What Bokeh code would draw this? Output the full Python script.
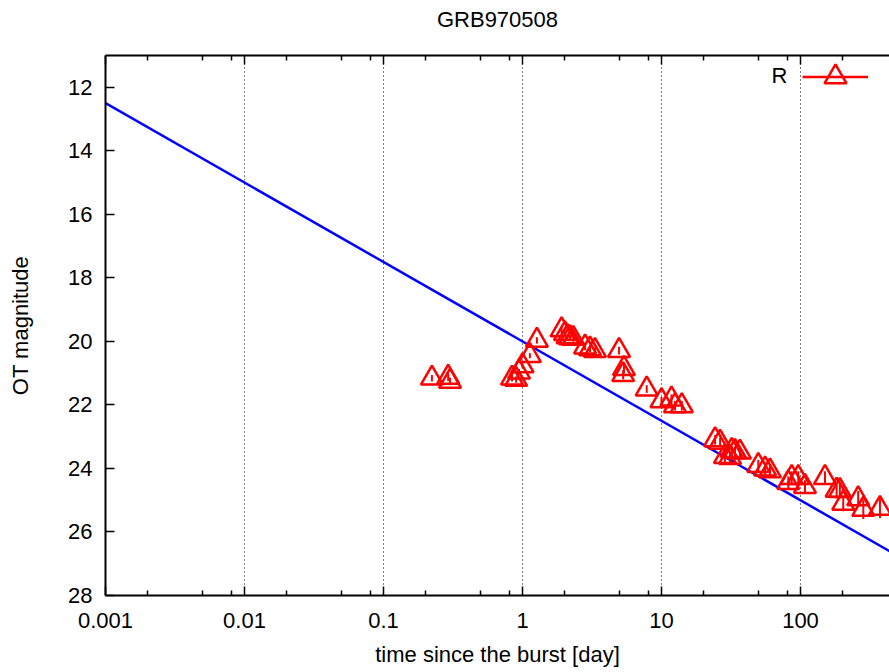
import math
from bokeh.plotting import figure
from bokeh.models import (Range1d, FixedTicker, LogAxis, Label, Legend, LegendItem,
                          ColumnDataSource, NumeralTickFormatter)
from bokeh.embed import file_html
from bokeh.resources import INLINE

# ---------------- data ----------------
t_days = [0.223, 0.292, 0.301, 0.84, 0.90, 0.944, 1.00, 1.13, 1.27,
          1.91, 2.02, 2.11, 2.20, 2.32, 2.82, 3.06, 3.32,
          4.95, 5.37, 5.30, 7.83, 10.0, 11.8, 12.5, 14.0,
          24.3, 26.4, 28.6, 31.1, 32.0, 33.8, 36.7,
          49.7, 55.6, 60.3, 81.7, 86.4, 96.4, 107.7,
          150.0, 182.0, 192.0, 203.0, 260.0, 283.0, 373.0]
r_mag = [21.16, 21.13, 21.26, 21.16, 21.20, 20.97, 20.77, 20.45, 19.97,
         19.64, 19.76, 19.86, 19.89, 19.91, 20.18, 20.24, 20.29,
         20.29, 20.86, 21.05, 21.50, 21.87, 21.82, 22.03, 22.03,
         23.10, 23.18, 23.63, 23.66, 23.44, 23.47, 23.49,
         23.91, 24.02, 24.08, 24.45, 24.29, 24.29, 24.57,
         24.29, 24.69, 24.70, 25.10, 24.96, 25.29, 25.26]
r_err = [0.10, 0.12, 0.12, 0.10, 0.10, 0.10, 0.08, 0.08, 0.10,
         0.10, 0.08, 0.08, 0.08, 0.10, 0.10, 0.10, 0.10,
         0.12, 0.15, 0.15, 0.12, 0.12, 0.15, 0.15, 0.15,
         0.15, 0.15, 0.18, 0.18, 0.15, 0.15, 0.18,
         0.18, 0.20, 0.20, 0.20, 0.20, 0.20, 0.20,
         0.20, 0.25, 0.25, 0.25, 0.25, 0.30, 0.30]

# fitted power-law decay line (mag vs time)
fit_t = [0.001, 500.0]
fit_mag = [12.5, 26.75]

x_major = [0.001, 0.01, 0.1, 1, 10, 100]
x_grid = [0.01, 0.1, 1, 10, 100]
x_minor_factors = [2, 5, 8]
y_ticks = [12, 14, 16, 18, 20, 22, 24, 26, 28]

title_text = "GRB970508"
x_label = "time since the burst [day]"
y_label = "OT magnitude"
series_name = "R"

# ---------------- layout ----------------
W, H = 889, 672
FL, FT, FB = 105, 55, 77
FW = W - FL
FH = H - FT - FB
PX_PER_DEC = 139.0
x_end = 10 ** (-3 + FW / PX_PER_DEC)

x_minor = [d * f for d in x_major + [1000] for f in x_minor_factors]
x_minor = [v for v in x_minor if v < x_end]

FONT = "Liberation Sans"
FS = "22px"

p = figure(width=W, height=H, x_axis_type="log",
           x_range=Range1d(0.001, x_end), y_range=Range1d(28, 11),
           output_backend="svg", toolbar_location=None,
           min_border_left=FL, min_border_right=0, min_border_top=FT,
           min_border_bottom=FB)
p.outline_line_color = None
p.background_fill_color = "white"
p.border_fill_color = "white"

# x axis
xa = p.xaxis[0]
xa.ticker = FixedTicker(ticks=x_major, minor_ticks=x_minor)
xa.formatter = NumeralTickFormatter(format="0.[000]")
xa.major_tick_in = 9
xa.major_tick_out = 0
xa.minor_tick_in = 5
xa.minor_tick_out = 0
xa.axis_line_width = 2
xa.major_tick_line_width = 1.5
xa.minor_tick_line_width = 1.5
xa.major_label_text_font = FONT
xa.major_label_text_font_size = FS
xa.major_label_text_color = "black"
xa.major_label_standoff = 17
xa.axis_label = x_label
xa.axis_label_text_font = FONT
xa.axis_label_text_font_size = FS
xa.axis_label_text_font_style = "normal"
xa.axis_label_text_color = "black"
xa.axis_label_standoff = 11

# top mirror axis (labels hidden) carrying the title text
top = LogAxis(ticker=FixedTicker(ticks=x_major, minor_ticks=x_minor),
              formatter=NumeralTickFormatter(format="0.[000]"),
              major_tick_in=9, major_tick_out=0, minor_tick_in=5, minor_tick_out=0,
              axis_line_width=2, major_tick_line_width=1.5, minor_tick_line_width=1.5,
              major_label_text_alpha=0.0, major_label_text_font_size="10px",
              major_label_standoff=0,
              axis_label=title_text, axis_label_text_font=FONT,
              axis_label_text_font_size=FS, axis_label_text_font_style="normal",
              axis_label_text_color="black", axis_label_standoff=24)
p.add_layout(top, "above")

# y axis
ya = p.yaxis[0]
ya.ticker = FixedTicker(ticks=y_ticks)
ya.major_tick_in = 9
ya.major_tick_out = 0
ya.minor_tick_in = 0
ya.minor_tick_out = 0
ya.axis_line_width = 2
ya.major_tick_line_width = 1.5
ya.major_label_text_font = FONT
ya.major_label_text_font_size = FS
ya.major_label_text_color = "black"
ya.major_label_standoff = 13
ya.axis_label = y_label
ya.axis_label_text_font = FONT
ya.axis_label_text_font_size = FS
ya.axis_label_text_font_style = "normal"
ya.axis_label_text_color = "black"
ya.axis_label_standoff = 32

# grid
p.xgrid[0].ticker = FixedTicker(ticks=x_grid)
p.xgrid[0].grid_line_color = "black"
p.xgrid[0].grid_line_dash = "1 3"
p.xgrid[0].grid_line_width = 1
p.ygrid[0].visible = False

# fit line
p.line(fit_t, fit_mag, line_color="#0000ff", line_width=2.5)

# data
src = ColumnDataSource(dict(t=t_days, m=r_mag,
                            lo=[m - e for m, e in zip(r_mag, r_err)],
                            hi=[m + e for m, e in zip(r_mag, r_err)]))
p.segment(x0="t", y0="lo", x1="t", y1="hi", source=src, line_color="#ff0000", line_width=2)
sc = p.scatter(x="t", y="m", source=src, marker="triangle", size=22,
               fill_color=None, line_color="#ff0000", line_width=2.5)
dummy_line = p.line(x=[0.001], y=[40], line_color="#ff0000", line_width=2.5)

legend = Legend(items=[LegendItem(label=" ", renderers=[dummy_line, sc])],
                location=(697, 491.5), glyph_width=66, glyph_height=55,
                label_standoff=0, label_text_font_size="10px",
                padding=0, spacing=0, margin=0,
                background_fill_alpha=0, border_line_color=None)
p.add_layout(legend, "center")

p.add_layout(Label(x=787 - FL, y=(FT + FH) - 75, x_units="screen", y_units="screen",
                   text=series_name, text_font=FONT, text_font_size=FS,
                   text_color="black", text_align="right", text_baseline="alphabetic"))

open("out.html", "w").write(file_html(p, INLINE))
